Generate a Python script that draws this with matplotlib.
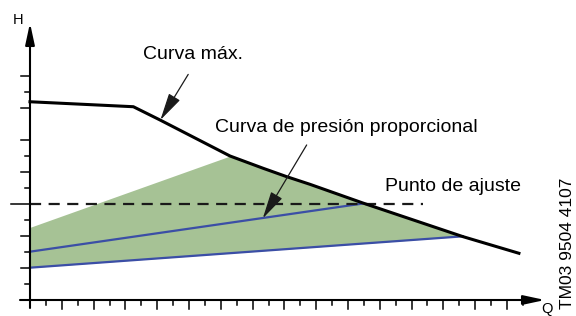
import matplotlib
matplotlib.use('Agg')
import matplotlib.pyplot as plt
import numpy as np

plt.rcParams['font.family'] = ['Liberation Sans', 'DejaVu Sans']
plt.rcParams['lines.scale_dashes'] = False

# max curve (Q, H) in tick units
q_max = [0, 6.5, 8.18, 12.58, 14.67, 16.14, 17.61, 20.94, 27.23, 30.75]
h_max = [12.39, 12.08, 11.25, 9.0, 8.23, 7.71, 7.23, 6.06, 3.96, 2.92]

# proportional pressure curves (start, end)
q_prop_hi = [0, 20.94]
h_prop_hi = [3.02, 6.03]
q_prop_lo = [0, 27.23]
h_prop_lo = [2.02, 3.98]

# upper edge of the shaded band
q_band_top = [0, 12.58]
h_band_top = [4.54, 9.0]

# set point (dashed)
q_set = [0, 24.7]
h_set = [6.0, 6.0]

n_xticks = 31
n_yticks = 14

fig = plt.figure(figsize=(5.76, 3.16), dpi=100)
ax = fig.add_axes([0, 0, 1, 1])
ax.set_xlim(-30 / 15.9, 546 / 15.9)
ax.set_ylim(-1.0, 18.75)
ax.axis('off')

# shaded band
qq = np.linspace(0, q_prop_lo[1], 400)
top = np.minimum(np.interp(qq, q_band_top, h_band_top, right=1e9), np.interp(qq, q_max, h_max))
bot = np.interp(qq, q_prop_lo, h_prop_lo)
ax.fill_between(qq, bot, top, color='#a6c295', lw=0, zorder=1)

ax.plot(q_prop_hi, h_prop_hi, color='#3b4ea6', lw=1.6, zorder=2)
ax.plot(q_prop_lo, h_prop_lo, color='#3b4ea6', lw=1.6, zorder=2)
ax.plot(q_set, h_set, color='#1a1a1a', lw=1.6, dashes=(8, 5.4), zorder=3)
ax.plot(q_max, h_max, color='black', lw=2.2, zorder=4)

# axes with arrows
px = 1 / 15.9
py = 1 / 16
ax.annotate('', xy=(515 / 15.9, 0), xytext=(-10 * px, 0),
            arrowprops=dict(arrowstyle='-|>,head_length=1.3,head_width=0.28', mutation_scale=10,
                            lw=1.5, color='black', shrinkA=0, shrinkB=0), zorder=5)
ax.annotate('', xy=(0, (300 - 23) / 16), xytext=(0, -8 * py),
            arrowprops=dict(arrowstyle='-|>,head_length=1.3,head_width=0.28', mutation_scale=10,
                            lw=1.5, color='black', shrinkA=0, shrinkB=0), zorder=5)

for i in range(1, n_xticks + 1):
    ln = 9 if i % 2 == 0 else 5
    ax.plot([i, i], [0, -ln * py], color='black', lw=1.1, zorder=5)
for j in range(1, n_yticks + 1):
    if j == 11:
        continue
    ln = 9 if j % 2 == 0 else 5
    if j == 6:
        ln = 19
    ax.plot([0, -ln * px], [j, j], color='black', lw=1.1, zorder=5)

ax.text(-0.75, 17.5, 'H', fontsize=10.5, ha='center', va='center')
ax.text(32.5, -0.55, 'Q', fontsize=10.5, ha='center', va='center')
ax.text(33.8, 7.625, 'TM03 9504 4107', fontsize=12.5, rotation=90, ha='center', va='top')

ax.text(7.11, 15.04, 'Curva máx.', fontsize=14, ha='left', va='baseline')
ax.text(11.64, 10.52, 'Curva de presión proporcional', fontsize=14, ha='left', va='baseline')
ax.text(22.33, 6.83, 'Punto de ajuste', fontsize=14, ha='left', va='baseline')

arrow = dict(arrowstyle='-|>,head_length=1.7,head_width=0.4', mutation_scale=10,
             lw=0.9, color='#1a1a1a', shrinkA=0, shrinkB=0)
ax.annotate('', xy=(8.2, 11.25), xytext=(9.95, 14.1), arrowprops=arrow, zorder=6)
ax.annotate('', xy=(14.64, 5.1), xytext=(17.4, 9.69), arrowprops=arrow, zorder=6)

fig.savefig('out.png', dpi=100)
